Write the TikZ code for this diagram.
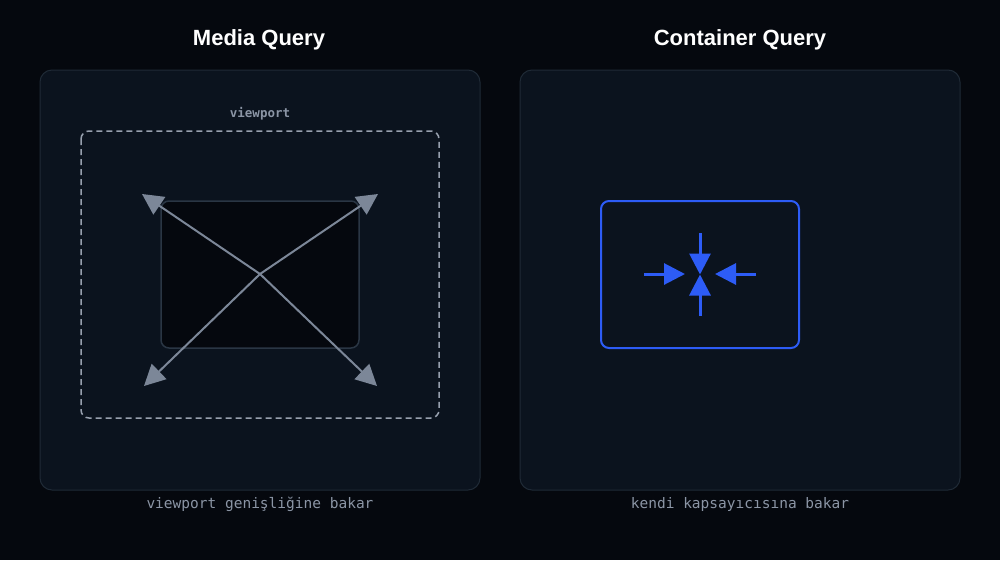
\documentclass[tikz,border=0pt]{standalone}
\usepackage{fontspec}
\setmainfont{Liberation Sans}
\newfontfamily\monof{DejaVu Sans Mono}
\usetikzlibrary{arrows.meta}
\definecolor{bgc}{HTML}{05080E}
\definecolor{panelc}{HTML}{0B131E}
\definecolor{panelb}{HTML}{1F2A36}
\definecolor{grayc}{HTML}{7C8798}
\definecolor{labelc}{HTML}{8B95A5}
\definecolor{innerb}{HTML}{2A3644}
\definecolor{bluec}{HTML}{2D5CF6}
\tikzset{
  panel/.style={draw=panelb, line width=1pt, fill=panelc, rounded corners=12pt},
  title/.style={font=\bfseries\fontsize{22}{26}\selectfont, text=white},
  mono/.style={font=\monof\fontsize{14.5}{17}\selectfont, text=labelc},
  smallmono/.style={font=\monof\bfseries\fontsize{12.5}{15}\selectfont, text=labelc},
  grayarrow/.style={draw=grayc, line width=2pt, -{Triangle[length=21pt,width=21pt]}},
  bluearrow/.style={draw=bluec, line width=3pt, -{Triangle[length=21pt,width=21pt]}},
}
\begin{document}
\begin{tikzpicture}[x=1pt,y=-1pt]
\fill[bgc] (0,0) rectangle (1000,560);
\useasboundingbox (0,0) rectangle (1000,560);
% titles
\node[title] (t1) at (259,40) {Media Query};
\node[title] (t2) at (740,40) {Container Query};
% panels
\draw[panel] (40,70) rectangle (480,490);
\draw[panel] (520,70) rectangle (960,490);
% left panel
\node[smallmono] (vp) at (260,114) {viewport};
\draw[draw=labelc!90, line width=1.5pt, dash pattern=on 6pt off 4pt, rounded corners=8pt] (81,131) rectangle (439,418);
\draw[draw=innerb, line width=1.5pt, fill=bgc, rounded corners=8pt] (161,201) rectangle (359,348);
\coordinate (c) at (260,274);
\coordinate (ul) at (142,194);
\coordinate (ur) at (378,194);
\coordinate (ll) at (144,386);
\coordinate (lr) at (377,386);
\draw[grayarrow] (c) -- (ul);
\draw[grayarrow] (c) -- (ur);
\draw[grayarrow] (c) -- (ll);
\draw[grayarrow] (c) -- (lr);
% right panel
\draw[draw=bluec, line width=2pt, rounded corners=8pt] (601,201) rectangle (799,348);
\coordinate (la) at (644,274);
\coordinate (lt) at (685,274);
\coordinate (ra) at (756,274);
\coordinate (rt) at (715,274);
\coordinate (ta) at (700,233);
\coordinate (tt) at (700,274.5);
\coordinate (ba) at (700,316);
\coordinate (bt) at (700,274.5);
\draw[bluearrow] (la) -- (lt);
\draw[bluearrow] (ra) -- (rt);
\draw[bluearrow] (ta) -- (tt);
\draw[bluearrow] (ba) -- (bt);
% captions
\node[mono] (cap1) at (260,504) {viewport genişliğine bakar};
\node[mono] (cap2) at (740,504) {kendi kapsayıcısına bakar};
\end{tikzpicture}
\end{document}
